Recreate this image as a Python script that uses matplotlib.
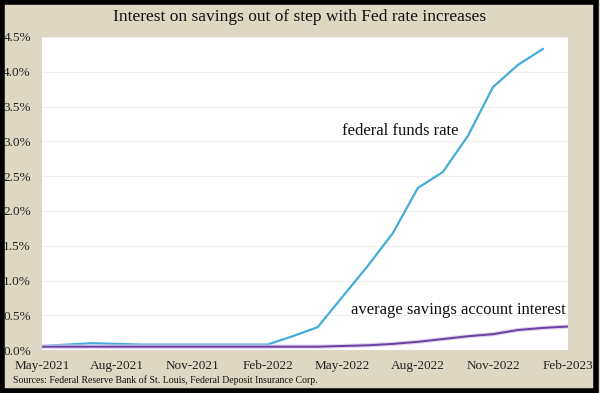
import matplotlib.pyplot as plt
import matplotlib.patheffects as pe
from matplotlib.patches import Rectangle

plt.rcParams['font.family'] = ['Liberation Serif', 'DejaVu Serif']

# monthly data, May-2021 .. Feb-2023
months = ['May-2021', 'Jun-2021', 'Jul-2021', 'Aug-2021', 'Sep-2021', 'Oct-2021',
          'Nov-2021', 'Dec-2021', 'Jan-2022', 'Feb-2022', 'Mar-2022', 'Apr-2022',
          'May-2022', 'Jun-2022', 'Jul-2022', 'Aug-2022', 'Sep-2022', 'Oct-2022',
          'Nov-2022', 'Dec-2022', 'Jan-2023', 'Feb-2023']
# effective federal funds rate (no Feb-2023 value in the chart)
fed_funds = [0.06, 0.08, 0.10, 0.09, 0.08, 0.08, 0.08, 0.08, 0.08, 0.08, 0.20, 0.33,
             0.77, 1.21, 1.68, 2.33, 2.56, 3.08, 3.78, 4.10, 4.33]
# FDIC national average savings rate
savings = [0.05, 0.05, 0.05, 0.05, 0.05, 0.05, 0.05, 0.05, 0.05, 0.05, 0.05, 0.05,
           0.06, 0.07, 0.09, 0.12, 0.16, 0.20, 0.23, 0.29, 0.32, 0.34]
tick_labels = months[::3]
y_ticks = [0.0, 0.5, 1.0, 1.5, 2.0, 2.5, 3.0, 3.5, 4.0, 4.5]

bg = '#ddd7c3'
fig = plt.figure(figsize=(6, 3.93), dpi=100, facecolor=bg)
ax = fig.add_axes([0.07, 0.109, 0.877, 0.797])
ax.set_facecolor('white')

x = list(range(len(months)))
ax.plot(x[:len(fed_funds)], fed_funds, color='#45acd8', lw=1.6, solid_capstyle='round')
ax.plot(x, savings, color='#6a3f9e', lw=1.4,
        path_effects=[pe.Stroke(linewidth=3, foreground='#dccfee'), pe.Normal()])

ax.set_xlim(0, len(months) - 1)
ax.set_ylim(0, 4.5)
ax.set_xticks(x[::3])
ax.set_xticklabels(tick_labels, fontsize=9.5, color='#222222')
ax.set_yticks(y_ticks)
ax.set_yticklabels([f'{v:.1f}%' for v in y_ticks], fontsize=9.5, color='#222222')
ax.tick_params(length=0)
ax.tick_params(axis='x', pad=7)
ax.tick_params(axis='y', pad=8)
ax.grid(axis='y', color='#eeeeee', lw=0.8)
ax.set_axisbelow(True)
for s in ax.spines.values():
    s.set_visible(False)

ax.text(14.3, 3.15, 'federal funds rate', fontsize=12, ha='center', va='center', color='#111111')
ax.text(20.9, 0.57, 'average savings account interest', fontsize=12, ha='right',
        va='center', color='#111111')

fig.text(0.5, 0.957, 'Interest on savings out of step with Fed rate increases',
         ha='center', va='center', fontsize=12.5, color='#111111')
fig.text(0.022, 0.033, 'Sources: Federal Reserve Bank of St. Louis, Federal Deposit Insurance Corp.',
         ha='left', va='center', fontsize=7, color='#111111')

# black frame around the figure
fig.patches.append(Rectangle((0.003, 0.004), 0.990, 0.990, transform=fig.transFigure,
                             fill=False, edgecolor='black', lw=4))

fig.savefig('out.png', dpi=100, facecolor=bg)
